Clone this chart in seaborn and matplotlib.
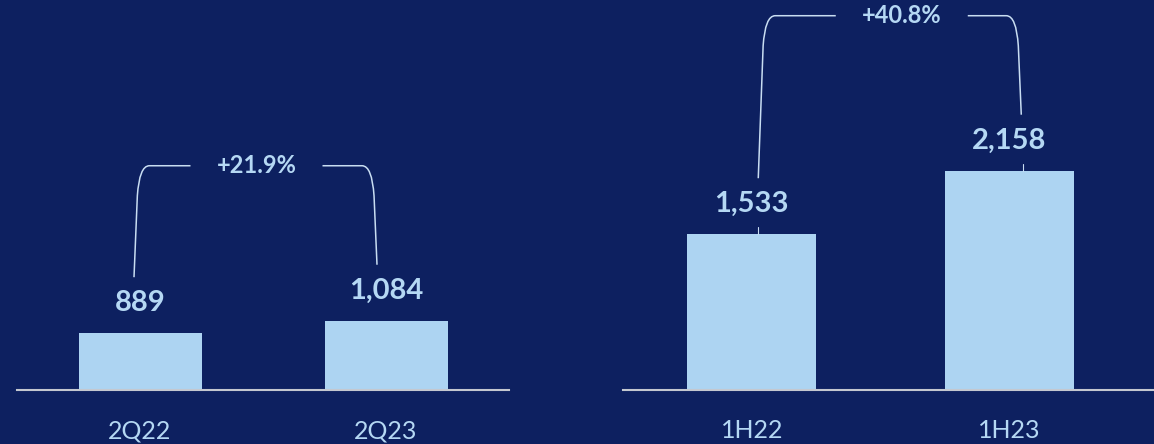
import pandas as pd
import seaborn as sns
import matplotlib.pyplot as plt
from matplotlib.path import Path
from matplotlib.patches import PathPatch

# Данные
q_periods = ['2Q22', '2Q23']
q_values = [889, 1084]
q_growth = '+21.9%'

h_periods = ['1H22', '1H23']
h_values = [1533, 2158]
h_growth = '+40.8%'

# Цвета
BG = '#0D2060'
BAR = '#ADD4F2'
TXT = '#B5D8F4'
AXIS = '#C4C8D0'
BRACKET = '#C8DDF2'

sns.set_theme(style='white')
plt.rcParams['font.family'] = ['Lato', 'DejaVu Sans']

fig = plt.figure(figsize=(11.54, 4.44), dpi=100, facecolor=BG)
ax1 = fig.add_axes([17 / 1154, 54 / 444, 492 / 1154, 390 / 444])
ax2 = fig.add_axes([623 / 1154, 54 / 444, 531 / 1154, 390 / 444])


def draw_panel(ax, periods, values, ymax, xmax):
    df = pd.DataFrame({'period': periods, 'value': values})
    sns.barplot(data=df, x='period', y='value', ax=ax, color=BAR,
                saturation=1, width=0.5, linewidth=0)
    ax.set_facecolor(BG)
    ax.set_xlim(-0.5, xmax)
    ax.set_ylim(0, ymax)
    ax.set_xlabel('')
    ax.set_ylabel('')
    ax.set_yticks([])
    for s in ['left', 'right', 'top']:
        ax.spines[s].set_visible(False)
    ax.spines['bottom'].set_color(AXIS)
    ax.spines['bottom'].set_linewidth(1.5)
    ax.tick_params(axis='x', length=0, pad=21, labelsize=18, labelcolor=TXT)
    # подписи значений
    for i, v in enumerate(values):
        ax.annotate(f'{v:,}', (i, v), xytext=(0, 30), textcoords='offset pixels',
                    ha='center', va='center', fontsize=21, fontweight='bold',
                    color=TXT)


def draw_bracket(ax, values, label, legs_dx, text_dx, top_gap=155):
    T = ax.transData
    (xa, ya), (xb, yb) = T.transform([(0, values[0]), (1, values[1])])
    top = max(ya, yb) + top_gap
    xa += legs_dx[0]
    xb += legs_dx[1]
    ya += 56
    yb += 56
    la = 0.03 * (top - ya)
    lb = 0.03 * (top - yb)
    tc = (xa + xb) / 2 + text_dx
    half = 66
    left = [(xa, ya), (xa + la, top - 30), (xa + la + 2, top),
            (xa + la + 12, top), (tc - half, top)]
    right = [(tc + half, top), (xb - lb - 12, top), (xb - lb - 2, top),
             (xb - lb, top - 30), (xb, yb)]
    codes = [Path.MOVETO, Path.LINETO, Path.CURVE3, Path.CURVE3, Path.LINETO]
    inv = T.inverted()
    for pts in [left, right]:
        p = Path(inv.transform(pts), codes)
        ax.add_patch(PathPatch(p, fill=False, edgecolor=BRACKET, lw=1.1,
                               transform=T, clip_on=False))
    tx, ty = inv.transform((tc, top))
    ax.text(tx, ty, label, ha='center', va='center', fontsize=17,
            fontweight='bold', color=TXT, clip_on=False)


def draw_leaders(ax, values, dxs, length=7):
    T = ax.transData
    inv = T.inverted()
    for i, (v, dx) in enumerate(zip(values, dxs)):
        x, y = T.transform((i, v))
        pts = inv.transform([(x + dx, y), (x + dx, y + length)])
        ax.plot(pts[:, 0], pts[:, 1], color=BRACKET, lw=0.8)


draw_panel(ax1, q_periods, q_values, ymax=6104, xmax=1.5)
draw_panel(ax2, h_periods, h_values, ymax=3838, xmax=1.562)

draw_bracket(ax1, q_values, q_growth, legs_dx=(-6, -9), text_dx=1)
draw_bracket(ax2, h_values, h_growth, legs_dx=(6.5, 12), text_dx=12)
draw_leaders(ax2, h_values, dxs=(6.5, 14))

fig.savefig('out.png', dpi=100, facecolor=BG)
